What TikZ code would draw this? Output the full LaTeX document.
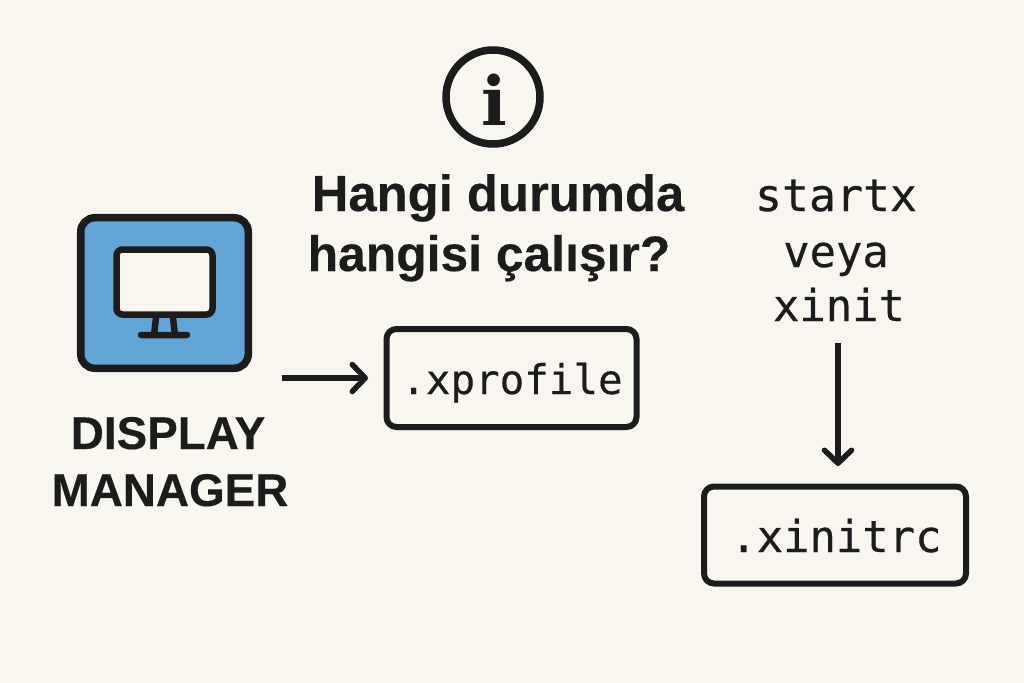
\documentclass[tikz,border=0pt]{standalone}
\usepackage{fontspec}
\setmainfont{Liberation Sans}
\newfontfamily\headfont{Liberation Sans}[FakeBold=0.3]
\newfontfamily\monof{DejaVu Sans Mono}[FakeBold=0.4]
\newfontfamily\infof{DejaVu Serif}
\usetikzlibrary{arrows.meta}
\definecolor{bgc}{HTML}{F8F6EF}
\definecolor{ink}{HTML}{1C1C1C}
\definecolor{bluec}{HTML}{64A5D8}
\tikzset{
 px/.style={x=1bp,y=-1bp},
 filebox/.style={draw=ink,line width=6bp,rounded corners=10bp,fill=bgc,inner sep=0pt},
 arrowline/.style={draw=ink,line width=5.5bp,-{Straight Barb[length=13bp,width=27bp,line width=5.5bp,round]}},
 mono/.style={text=ink,inner sep=0pt,anchor=base},
 headt/.style={text=ink,inner sep=0pt,anchor=base},
 dmt/.style={text=ink,font=\headfont\bfseries\fontsize{46}{46}\selectfont,inner sep=0pt,anchor=base},
 iconl/.style={draw=ink,line width=6.5bp,line cap=round,line join=round}
}
\begin{document}
\begin{tikzpicture}[px]
\useasboundingbox (0,0) rectangle (1024,683);
\fill[bgc] (0,0) rectangle (1024,683);
\node[draw=ink,line width=7.5bp,fill=bluec,rounded corners=14bp,minimum width=167.5bp,minimum height=150.5bp,inner sep=0pt] (dmbox) at (164.5,293) {};
\node[draw=ink,line width=6.5bp,rounded corners=6bp,minimum width=96bp,minimum height=65bp,inner sep=0pt,fill=bgc] (screen) at (164.5,282) {};
\coordinate (standa) at (156,318);
\coordinate (standb) at (154,335);
\coordinate (standc) at (173,318);
\coordinate (standd) at (175,335);
\coordinate (basea) at (141,335);
\coordinate (baseb) at (187,335);
\draw[iconl] (standa) -- (standb) (standc) -- (standd) (basea) -- (baseb);
\node[dmt] (dm1) at (168,449) {DISPLAY};
\node[dmt] (dm2) at (170,506) {MANAGER};
\node[filebox,minimum width=250bp,minimum height=98bp] (xp) at (511.5,378) {};
\node[mono,font=\monof\fontsize{41}{41}\selectfont] (xpt) at (512,394) {.xprofile};
\node[filebox,minimum width=262bp,minimum height=97bp] (xi) at (835,535) {};
\node[mono,font=\monof\fontsize{44}{44}\selectfont] (xit) at (836,552) {.xinitrc};
\coordinate (a1) at (282,378);
\coordinate (a1e) at (368,378);
\draw[arrowline] (a1) -- (a1e);
\node[mono,font=\monof\fontsize{45}{45}\selectfont] (s1) at (836,211) {startx};
\node[mono,font=\monof\fontsize{44}{44}\selectfont] (s2) at (836,267) {veya};
\node[mono,font=\monof\fontsize{44}{44}\selectfont] (s3) at (839,321) {xinit};
\coordinate (a2) at (838,343);
\coordinate (a3) at (838,466);
\draw[arrowline] (a2) -- (a3);
\node[headt,font=\headfont\bfseries\fontsize{51}{51}\selectfont] (h1) at (498,211) {Hangi durumda};
\node[headt,font=\headfont\bfseries\fontsize{50}{50}\selectfont] (h2) at (489,271) {hangisi çalışır?};
\node[draw=ink,line width=7.5bp,circle,minimum size=94bp,inner sep=0pt] (info) at (493,97) {};
\node[text=ink,font=\infof\bfseries\fontsize{68}{68}\selectfont,inner sep=0pt,anchor=base] (infoi) at (494,126) {i};
\end{tikzpicture}
\end{document}
